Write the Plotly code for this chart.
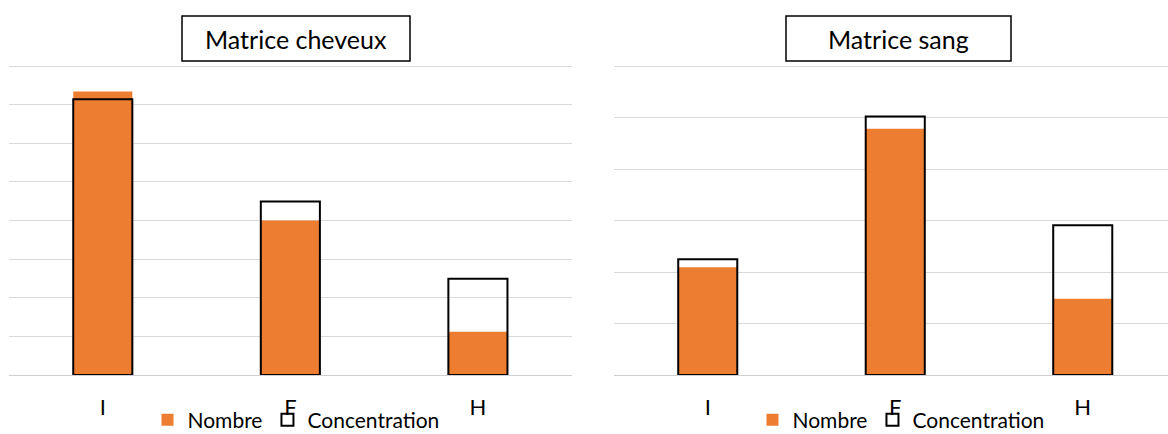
import plotly.graph_objects as go

categories = ["I", "F", "H"]
cheveux_nombre = [7.34, 4.0, 1.12]
cheveux_concentration = [7.14, 4.49, 2.49]
sang_nombre = [2.09, 4.78, 1.48]
sang_concentration = [2.25, 5.02, 2.91]

W, H = 1168, 434
ORANGE = "#ED7D31"
GRID = "#D9D9D9"
FONT = "Lato"
BAR_W = 0.315

def px(x):
    return x / W

def py(y):
    return 1 - y / H

fig = go.Figure()

for xa, ya, leg, nom, conc in [
    ("x", "y", "legend", cheveux_nombre, cheveux_concentration),
    ("x2", "y2", "legend2", sang_nombre, sang_concentration),
]:
    fig.add_trace(go.Bar(x=categories, y=nom, name="Nombre", width=BAR_W,
                         marker=dict(color=ORANGE, line=dict(width=0)),
                         xaxis=xa, yaxis=ya, legend=leg))
    fig.add_trace(go.Bar(x=categories, y=conc, name="Concentration", width=BAR_W,
                         marker=dict(color="rgba(255,255,255,0)", line=dict(color="black", width=2)),
                         xaxis=xa, yaxis=ya, legend=leg))

BASE = 375.0
STEP1 = (375 - 66) / 8.0
STEP2 = (375 - 66) / 6.0
TOP1, TOP2 = 8.03, 6.03

common_x = dict(showgrid=False, showline=False, zeroline=False, ticks="", automargin=False,
                tickfont=dict(family=FONT, size=22, color="#000"), ticklabelstandoff=17)
common_y = dict(showgrid=True, gridcolor=GRID, gridwidth=1.3, showticklabels=False, automargin=False,
                zeroline=True, zerolinecolor="#CFCFCF", zerolinewidth=1.3, dtick=1)

LEG_FONT = dict(family=FONT, size=21, color="#000")

fig.update_layout(
    width=W, height=H,
    margin=dict(l=0, r=0, t=0, b=0, autoexpand=False),
    paper_bgcolor="white", plot_bgcolor="white",
    barmode="overlay",
    xaxis=dict(domain=[px(9), px(571.7)], range=[-0.5, 2.5], anchor="y", **common_x),
    yaxis=dict(range=[0, TOP1], anchor="x", domain=[py(BASE), py(BASE - TOP1 * STEP1)], **common_y),
    xaxis2=dict(domain=[px(614), 1.0], range=[-0.5, 2.5 - 8.5 / 187.6], anchor="y2", **common_x),
    yaxis2=dict(range=[0, TOP2], anchor="x2", domain=[py(BASE), py(BASE - TOP2 * STEP2)], **common_y),
    legend=dict(orientation="h", x=px(296), xanchor="center", y=py(420), yanchor="middle",
                font=LEG_FONT, itemwidth=30, bgcolor="rgba(0,0,0,0)", traceorder="normal"),
    legend2=dict(orientation="h", x=px(901), xanchor="center", y=py(420), yanchor="middle",
                 font=LEG_FONT, itemwidth=30, bgcolor="rgba(0,0,0,0)", traceorder="normal"),
    showlegend=True,
)

for (x0, x1, text) in [(182, 410, "Matrice cheveux"), (786, 1011, "Matrice sang")]:
    fig.add_shape(type="rect", xref="paper", yref="paper",
                  x0=px(x0), x1=px(x1), y0=py(61), y1=py(16),
                  line=dict(color="black", width=1.5), fillcolor="white")
    fig.add_annotation(xref="paper", yref="paper", x=px((x0 + x1) / 2), y=py(38.5),
                       text=text, showarrow=False, xanchor="center", yanchor="middle",
                       font=dict(family=FONT, size=25, color="#000"))

fig.write_html("out.html", config={"displayModeBar": False},
               post_script="document.body.style.margin='0px';document.body.style.overflow='hidden';")
